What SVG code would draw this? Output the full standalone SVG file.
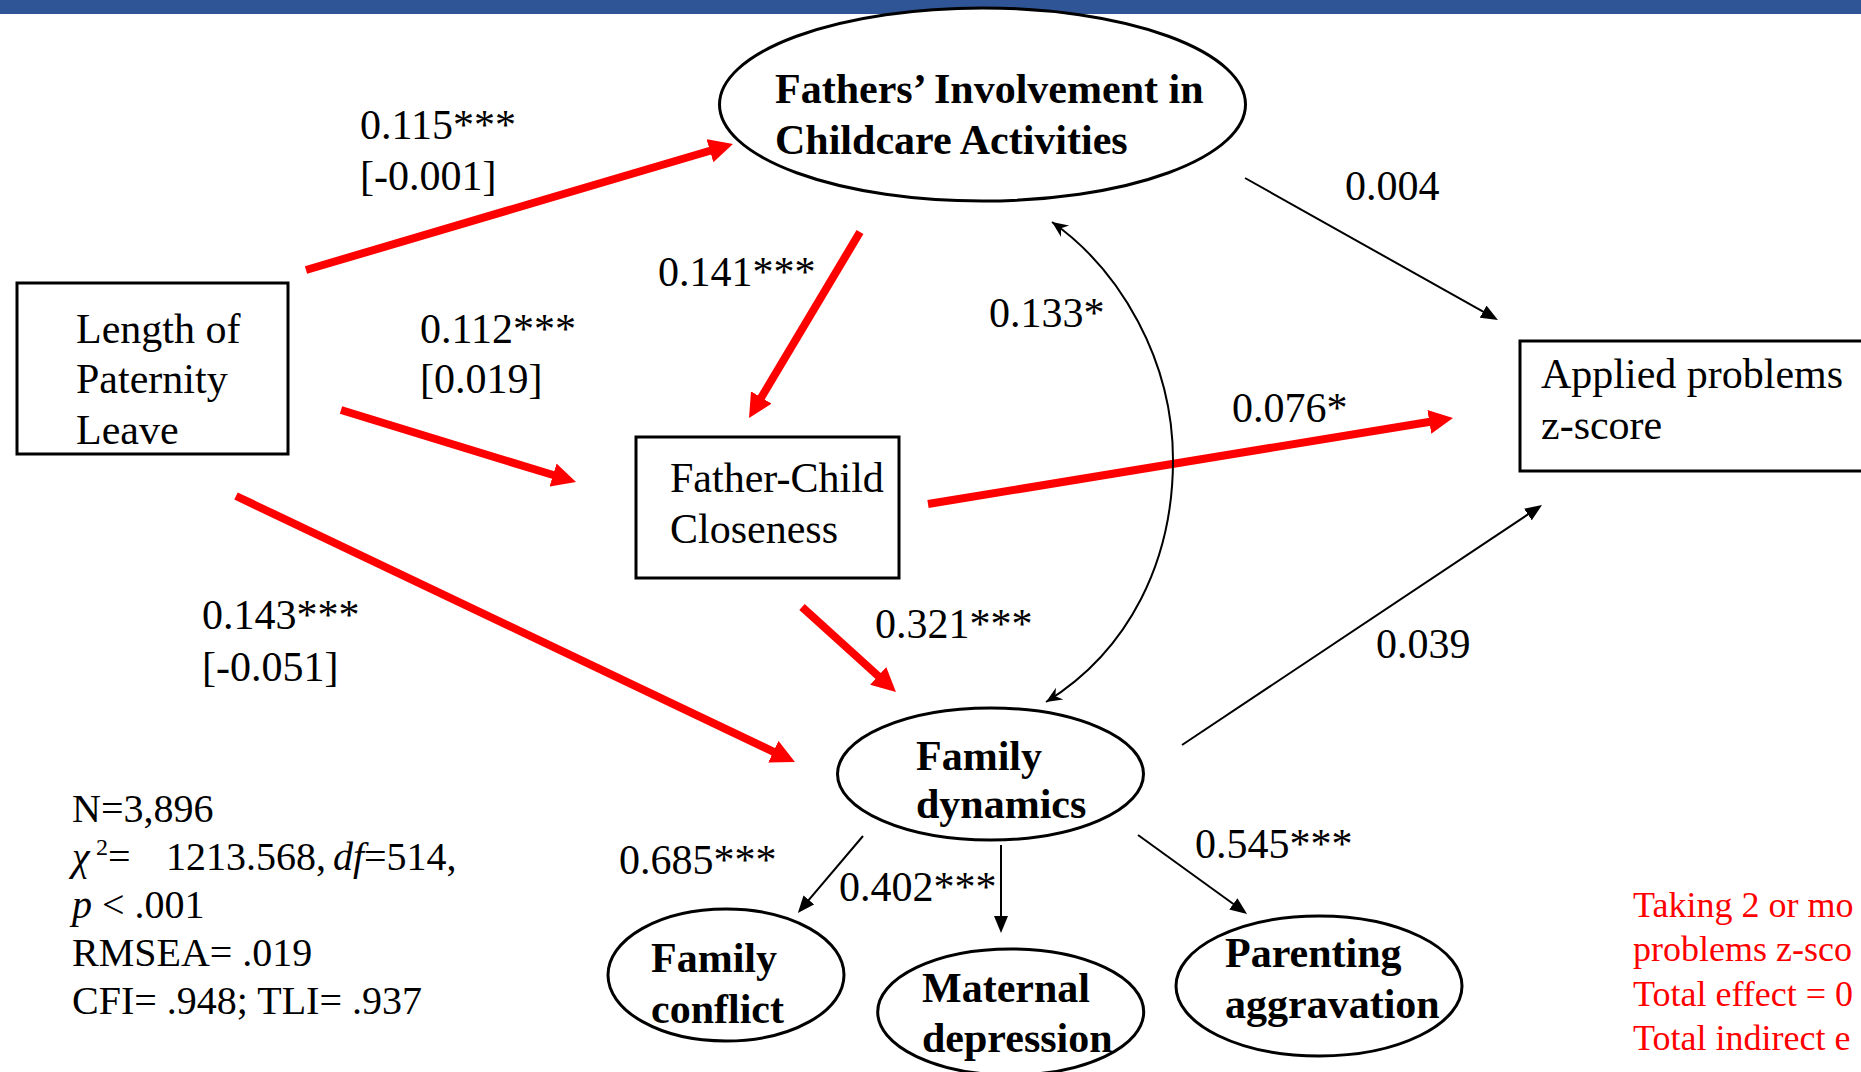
<svg xmlns="http://www.w3.org/2000/svg" width="1861" height="1072" viewBox="0 0 1861 1072">
<style>
.t{font-family:"Liberation Serif","Times New Roman",serif;font-size:42px;fill:#000}
.b{font-weight:bold}
.s{font-family:"Liberation Serif","Times New Roman",serif;font-size:40px;fill:#000}
.r{font-family:"Liberation Serif","Times New Roman",serif;font-size:36px;fill:#FF0000}
.node{fill:#fff;stroke:#000;stroke-width:3}
.red{fill:none;stroke:#FF0000;stroke-width:8}
.blk{fill:none;stroke:#000;stroke-width:2}
</style>
<defs>
<marker id="rh" markerUnits="userSpaceOnUse" viewBox="0 -12 24 24" markerWidth="24" markerHeight="24" refX="1" refY="0" orient="auto">
<path d="M0,-12 L24,0 L0,12 z" fill="#FF0000"/>
</marker>
<marker id="bh" markerUnits="userSpaceOnUse" viewBox="0 -7 17 14" markerWidth="17" markerHeight="14" refX="1" refY="0" orient="auto">
<path d="M0,-7 L17,0 L0,7 z" fill="#000"/>
</marker>
<marker id="sh" markerUnits="userSpaceOnUse" viewBox="-17 -8 18 16" markerWidth="18" markerHeight="16" refX="0" refY="0" orient="auto-start-reverse">
<path d="M0,0 L-16,-7 L-11,0 L-16,7 z" fill="#000"/>
</marker>
</defs>
<rect x="0" y="0" width="1861" height="14" fill="#2F5597"/>

<g id="connectors">
<path class="red" d="M306,270 L710.9,150.5" marker-end="url(#rh)"/>
<path class="red" d="M860,232 L760.8,398.3" marker-end="url(#rh)"/>
<path class="red" d="M341,410 L554,475.3" marker-end="url(#rh)"/>
<path class="red" d="M236,496 L774.2,752.1" marker-end="url(#rh)"/>
<path class="red" d="M928,504 L1430.3,421.7" marker-end="url(#rh)"/>
<path class="red" d="M802,607 L878.9,676.6" marker-end="url(#rh)"/>
<path class="blk" d="M1245,178 L1484,312.2" marker-end="url(#bh)"/>
<path class="blk" d="M1182,745 L1528.7,513.9" marker-end="url(#bh)"/>
<path class="blk" d="M863,836 L808.2,900.7" marker-end="url(#bh)"/>
<path class="blk" d="M1001,845 L1001,917" marker-end="url(#bh)"/>
<path class="blk" d="M1138,835 L1234.1,904.5" marker-end="url(#bh)"/>
<path class="blk" d="M1052,222 C1120,270 1173,360 1173,460 C1173,560 1130,650 1046,702" marker-start="url(#sh)" marker-end="url(#sh)"/>
</g>

<g id="length">
<rect class="node" x="17" y="283" width="271" height="171"/>
<text class="t" x="76" y="343">Length of</text>
<text class="t" x="76" y="393">Paternity</text>
<text class="t" x="76" y="444">Leave</text>
</g>
<g id="fathers">
<ellipse class="node" cx="982.5" cy="104.5" rx="263" ry="96.5"/>
<text class="t b" x="775" y="103">Fathers’ Involvement in</text>
<text class="t b" x="775" y="154">Childcare Activities</text>
</g>
<g id="closeness">
<rect class="node" x="636" y="437" width="263" height="141"/>
<text class="t" x="670" y="492">Father-Child</text>
<text class="t" x="670" y="543">Closeness</text>
</g>
<g id="applied">
<rect class="node" x="1520" y="341" width="400" height="130"/>
<text class="t" x="1541" y="388">Applied problems</text>
<text class="t" x="1541" y="439">z-score</text>
</g>
<g id="family-dynamics">
<ellipse class="node" cx="990.5" cy="774" rx="153" ry="66"/>
<text class="t b" x="916" y="770">Family</text>
<text class="t b" x="916" y="818">dynamics</text>
</g>
<g id="family-conflict">
<ellipse class="node" cx="726" cy="975" rx="118" ry="66"/>
<text class="t b" x="651" y="972">Family</text>
<text class="t b" x="651" y="1023">conflict</text>
</g>
<g id="maternal-depression">
<ellipse class="node" cx="1010.7" cy="1012" rx="133" ry="63"/>
<text class="t b" x="922" y="1002">Maternal</text>
<text class="t b" x="922" y="1052">depression</text>
</g>
<g id="parenting-aggravation">
<ellipse class="node" cx="1319" cy="986" rx="143" ry="70"/>
<text class="t b" x="1225" y="967">Parenting</text>
<text class="t b" x="1225" y="1018">aggravation</text>
</g>

<g id="labels">
<text class="t" x="360" y="139">0.115***</text>
<text class="t" x="360" y="190">[-0.001]</text>
<text class="t" x="658" y="286">0.141***</text>
<text class="t" x="420" y="343">0.112***</text>
<text class="t" x="420" y="393">[0.019]</text>
<text class="t" x="1345" y="200">0.004</text>
<text class="t" x="989" y="327">0.133*</text>
<text class="t" x="1232" y="422">0.076*</text>
<text class="t" x="875" y="638">0.321***</text>
<text class="t" x="1376" y="658">0.039</text>
<text class="t" x="202" y="629">0.143***</text>
<text class="t" x="202" y="681">[-0.051]</text>
<text class="t" x="619" y="874">0.685***</text>
<text class="t" x="839" y="901">0.402***</text>
<text class="t" x="1195" y="858">0.545***</text>
</g>

<g id="stats">
<text class="s" x="72" y="822">N=3,896</text>
<text class="s" y="870"><tspan x="72" font-style="italic">χ</tspan><tspan x="96" dy="-15" font-size="24">2</tspan><tspan x="108" dy="15">=</tspan><tspan x="166">1213.568,</tspan><tspan x="333" font-style="italic">df</tspan><tspan x="364">=514,</tspan></text>
<text class="s" x="72" y="918"><tspan font-style="italic">p</tspan> &lt; .001</text>
<text class="s" x="72" y="966">RMSEA= .019</text>
<text class="s" x="72" y="1014">CFI= .948; TLI= .937</text>
</g>

<g id="note">
<text class="r" x="1633" y="917">Taking 2 or mo</text>
<text class="r" x="1633" y="961">problems z-sco</text>
<text class="r" x="1633" y="1006">Total effect = 0</text>
<text class="r" x="1633" y="1050">Total indirect e</text>
</g>
</svg>
